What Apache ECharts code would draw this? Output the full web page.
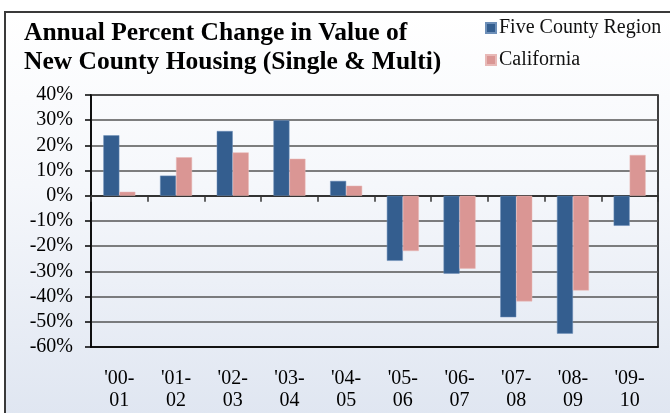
<!DOCTYPE html>
<html>
<head>
<meta charset="utf-8">
<script src="https://cdn.jsdelivr.net/npm/echarts@6/dist/echarts.min.js"></script>
<style>
html,body{margin:0;padding:0;background:#fff;}
#frame{position:absolute;left:4px;top:11px;width:690px;height:430px;border:2px solid #3a3a3a;
background:linear-gradient(to bottom,#ffffff 0%,#f5f7fb 40%,#dde4f0 100%);}
#chart{position:absolute;left:0;top:0;width:670px;height:413px;}
</style>
</head>
<body>
<div id="frame"></div>
<div id="chart"></div>
<script>
var categories = ["'00-\n01","'01-\n02","'02-\n03","'03-\n04","'04-\n05","'05-\n06","'06-\n07","'07-\n08","'08-\n09","'09-\n10"];
var fiveCounty = [24, 8, 25.7, 30, 5.9, -25.8, -30.9, -48.2, -54.7, -11.9];
var california = [1.6, 15.3, 17.2, 14.7, 4.0, -21.9, -28.9, -41.9, -37.6, 16.2];
var yTicks = {min: -60, max: 40, interval: 10};

var serif = "'Liberation Serif', 'Times New Roman', serif";
var chart = echarts.init(document.getElementById('chart'), null, {renderer: 'canvas'});
chart.setOption({
  backgroundColor: 'transparent',
  animation: false,
  title: {
    text: 'Annual Percent Change in Value of\nNew County Housing (Single & Multi)',
    left: 24, top: 19, padding: 0,
    textStyle: {fontFamily: serif, fontWeight: 'bold', fontSize: 25.5, lineHeight: 29, color: '#000'}
  },
  legend: {
    orient: 'vertical', left: 485, top: 18, padding: 0,
    itemWidth: 10, itemHeight: 10, itemGap: 12,
    icon: 'rect',
    textStyle: {fontFamily: serif, fontSize: 20, color: '#111', padding: [0, 0, 0, -2]},
    data: ['Five County Region', 'California']
  },
  grid: {left: 91, right: 12, top: 95, bottom: 66, show: true, borderColor: '#000', borderWidth: 1.5, backgroundColor: 'transparent'},
  xAxis: [{
    type: 'category', data: categories, position: 'bottom',
    axisLine: {onZero: false, lineStyle: {color: '#000', width: 1.5}},
    axisTick: {show: false},
    axisLabel: {fontFamily: serif, fontSize: 20, lineHeight: 22, color: '#000', margin: 21, interval: 0}
  }, {
    type: 'category', data: categories, position: 'top',
    axisLine: {onZero: true, lineStyle: {color: '#333', width: 2}},
    axisTick: {show: true, inside: true, length: 6, lineStyle: {color: '#333', width: 1.5}},
    axisLabel: {show: false}
  }],
  yAxis: {
    type: 'value', min: yTicks.min, max: yTicks.max, interval: yTicks.interval,
    axisLine: {show: true, lineStyle: {color: '#000', width: 1.5}},
    axisTick: {show: true, length: 6, lineStyle: {color: '#000', width: 1.5}},
    axisLabel: {formatter: '{value}%', fontFamily: serif, fontSize: 20, color: '#000', margin: 18},
    splitLine: {show: true, lineStyle: {color: '#555', width: 1.5}}
  },
  series: [{
    name: 'Five County Region', type: 'bar', data: fiveCounty, xAxisIndex: 0,
    barWidth: 16, barGap: '0%',
    itemStyle: {color: '#345e8f', borderColor: '#6d8fb8', borderWidth: 0.5}
  }, {
    name: 'California', type: 'bar', data: california, xAxisIndex: 0,
    barWidth: 16, barGap: '0%',
    itemStyle: {color: '#da9694', borderColor: '#e8b9b7', borderWidth: 0.5}
  }]
});
</script>
</body>
</html>
